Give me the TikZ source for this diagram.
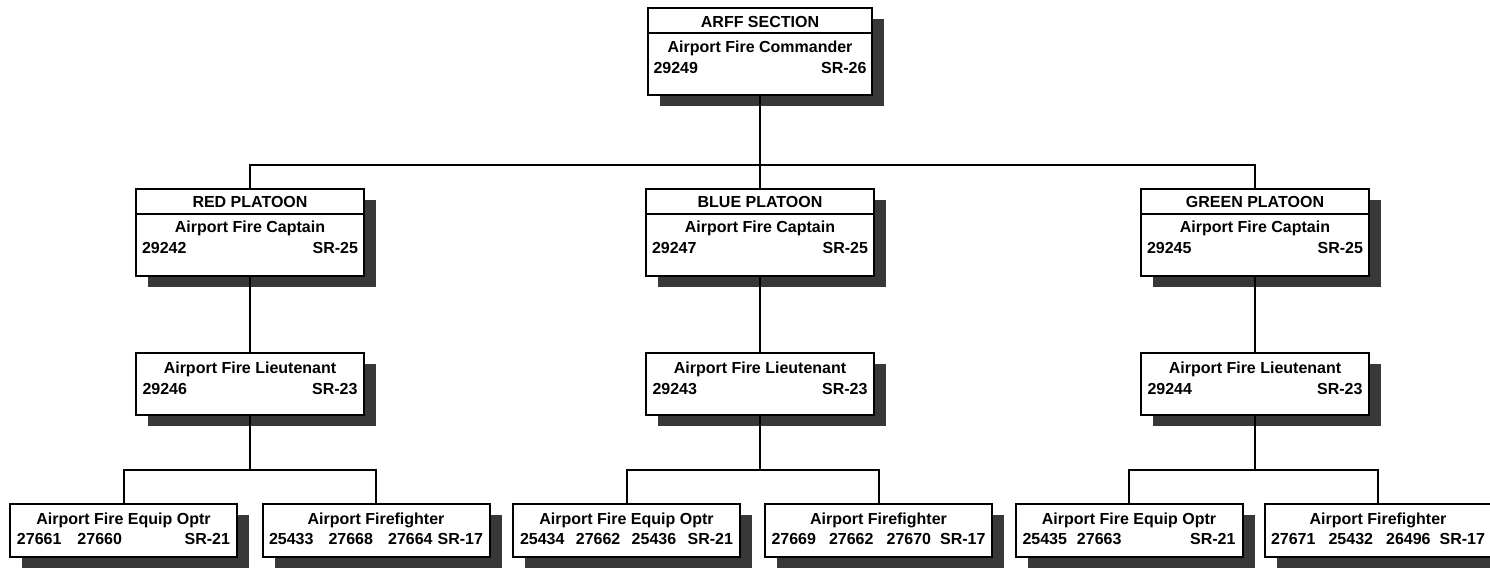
\documentclass[tikz,border=0pt]{standalone}
\usepackage{fontspec}
\setmainfont{Liberation Sans}
\usetikzlibrary{positioning, shadows}

\begin{document}
\begin{tikzpicture}[x=0.5pt, y=-0.5pt,
    orgbox/.style={draw=black, line width=1pt, fill=white, inner sep=0pt,
      drop shadow={shadow xshift=6pt, shadow yshift=-5.5pt, fill=black!78, opacity=1}},
    headbox/.style={orgbox, minimum width=114pt, minimum height=43.5pt},
    rankbox/.style={orgbox, minimum width=114pt, minimum height=31pt},
    crewbox/.style={orgbox, minimum width=113.5pt, minimum height=26.5pt},
    txt/.style={inner sep=0pt, anchor=base, font=\fontsize{8}{9.6}\selectfont\bfseries},
    link/.style={line width=1pt}
  ]
  \useasboundingbox[fill=white] (0,0) rectangle (1490,571);
  \coordinate (trunk) at (0,165);
  \coordinate (bus) at (0,470);

  % section head
  \node[headbox, minimum width=112pt] (arff) at (760,51.5) {};
  \draw[link] ([yshift=-13pt]arff.north west) -- ([yshift=-13pt]arff.north east);
  \node[txt] at ([yshift=-10.25pt]arff.north) {ARFF SECTION};
  \node[txt] at ([yshift=-23pt]arff.north) {Airport Fire Commander};
  \node[txt] at ([yshift=-33.5pt]arff.north) {\makebox[106.5pt]{29249\hfill SR-26}};

  % platoons
  \foreach \p/\x/\plt/\cpt/\lt in {red/250/RED/29242/29246,
      blue/760/BLUE/29247/29243, green/1255/GREEN/29245/29244} {
    \node[headbox] (\p) at (\x,232.5) {};
    \draw[link] ([yshift=-13pt]\p.north west) -- ([yshift=-13pt]\p.north east);
    \node[txt] at ([yshift=-9.75pt]\p.north) {\plt{} PLATOON};
    \node[txt] at ([yshift=-22.5pt]\p.north) {Airport Fire Captain};
    \node[txt] at ([yshift=-33pt]\p.north) {\makebox[108pt]{\cpt\hfill SR-25}};
    \node[rankbox] (\p-lt) at (\x,384.5) {};
    \node[txt] at ([yshift=-10.5pt]\p-lt.north) {Airport Fire Lieutenant};
    \node[txt] at ([yshift=-21pt]\p-lt.north) {\makebox[107.5pt]{\lt\hfill SR-23}};
    \draw[link] (\p.south) -- (\p-lt.north);
  }
  \draw[link] (arff.south) -- (blue.north);
  \draw[link] (red.north) |- (green.north |- trunk) -- (green.north);

  % crews
  \foreach \p/\ex/\fx/\eqrow/\ffrow in {
      red/123.5/376/{27661\hspace{8pt}27660\hfill SR-21}/{25433\hfill 27668\hfill 27664\hspace{2.5pt}SR-17},
      blue/626.5/878.5/{25434\hfill 27662\hfill 25436\hfill SR-21}/{27669\hfill 27662\hfill 27670\hspace{4.5pt}SR-17},
      green/1129/1378/{25435\hspace{5pt}27663\hfill SR-21}/{27671\hfill 25432\hfill 26496\hspace{4.5pt}SR-17}} {
    \node[crewbox] (\p-eq) at (\ex,531) {};
    \node[txt] at ([yshift=-10.5pt]\p-eq.north) {Airport Fire Equip Optr};
    \node[txt] at ([yshift=-20.5pt]\p-eq.north) {\makebox[106.5pt]{\eqrow}};
    \node[crewbox] (\p-ff) at (\fx,531) {};
    \node[txt] at ([yshift=-10.5pt]\p-ff.north) {Airport Firefighter};
    \node[txt] at ([yshift=-20.5pt]\p-ff.north) {\makebox[107pt]{\ffrow}};
    \draw[link] (\p-lt.south) -- (\p-lt.south |- bus);
    \draw[link] (\p-eq.north) |- (\p-ff.north |- bus) -- (\p-ff.north);
  }
\end{tikzpicture}
\end{document}
